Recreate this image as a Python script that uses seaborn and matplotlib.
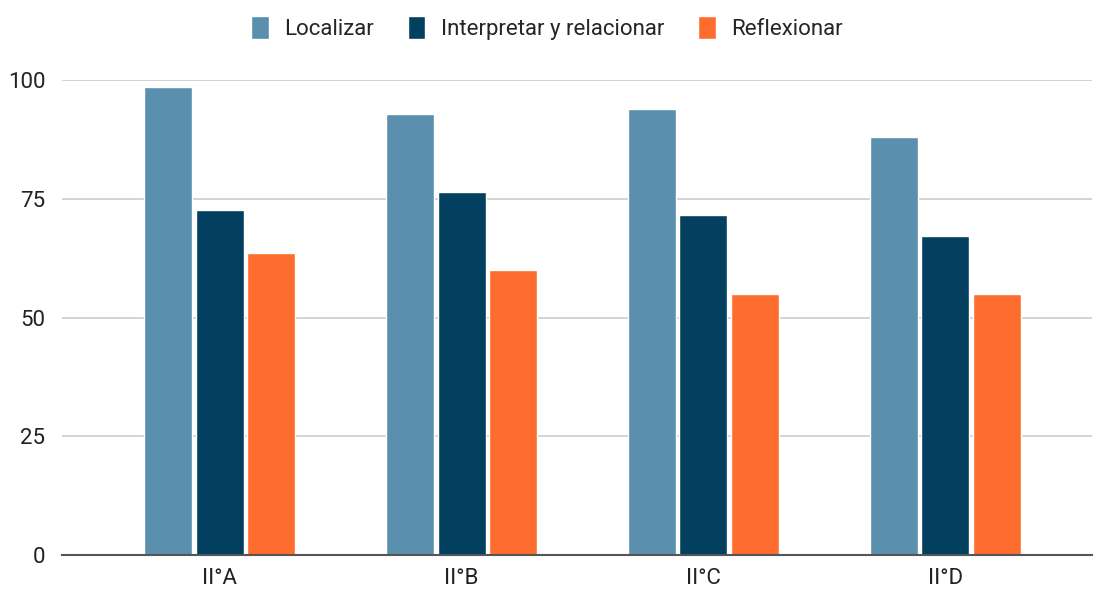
import numpy as np
import pandas as pd
import matplotlib
matplotlib.use("Agg")
import matplotlib.pyplot as plt
import seaborn as sns

# data
grupos = ["II°A", "II°B", "II°C", "II°D"]
series = ["Localizar", "Interpretar y relacionar", "Reflexionar"]
localizar = [98.6, 92.8, 94.0, 87.9]
interpretar = [72.6, 76.5, 71.5, 67.2]
reflexionar = [63.6, 60.0, 55.0, 55.0]
colores = ["#5b8fae", "#03405f", "#ff6d2e"]

df = pd.DataFrame({
    "grupo": grupos * 3,
    "serie": [series[0]] * 4 + [series[1]] * 4 + [series[2]] * 4,
    "valor": localizar + interpretar + reflexionar,
})

sns.set_style("white")
plt.rcParams["font.family"] = ["Roboto", "DejaVu Sans"]

fig = plt.figure(figsize=(10.94, 5.94), dpi=100)
ax = fig.add_axes([62 / 1094, 1 - 555 / 594, 1030 / 1094, 475 / 594])

sns.barplot(
    data=df, x="grupo", y="valor", hue="serie",
    palette=colores, width=0.64, gap=0.07,
    saturation=1, ax=ax, legend=True
)

ax.set_ylim(0, 100)
ax.set_xlim(-0.653, 3.607)
ax.set_yticks([0, 25, 50, 75, 100])
ax.yaxis.grid(True, color="#cccccc", linewidth=1.2)
ax.set_axisbelow(True)
ax.set_xlabel("")
ax.set_ylabel("")
for s in ["top", "right", "left"]:
    ax.spines[s].set_visible(False)
ax.spines["bottom"].set_color("#555555")
ax.spines["bottom"].set_linewidth(1.5)
ax.tick_params(axis="both", length=0, labelsize=16, colors="#222222")
ax.tick_params(axis="y", pad=12)
ax.tick_params(axis="x", pad=9)

handles, labels = ax.get_legend_handles_labels()
ax.legend_.remove()
fig.legend(
    handles, labels, loc="center", bbox_to_anchor=(0.5, 1 - 28 / 594),
    ncol=3, frameon=False, fontsize=16, handlelength=0.8, handleheight=1.2,
    handletextpad=0.7, columnspacing=1.5
)

fig.savefig("out.png", dpi=100)
